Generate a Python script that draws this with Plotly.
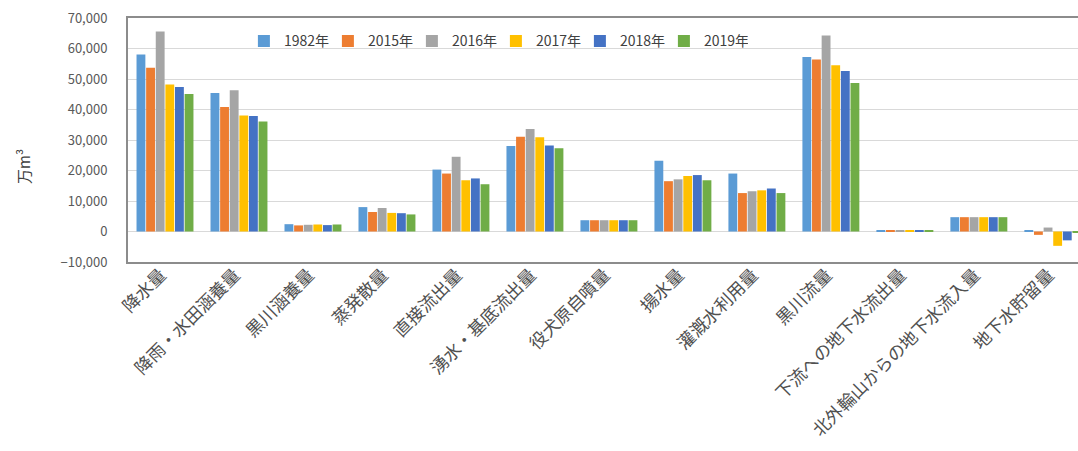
import plotly.graph_objects as go

categories = ["降水量", "降雨・水田涵養量", "黒川涵養量", "蒸発散量", "直接流出量",
              "湧水・基底流出量", "役犬原自噴量", "揚水量", "灌漑水利用量", "黒川流量",
              "下流への地下水流出量", "北外輪山からの地下水流入量", "地下水貯留量"]
years = ["1982年", "2015年", "2016年", "2017年", "2018年", "2019年"]

v1982 = [58000, 45400, 2400, 8000, 20300, 28000, 3700, 23200, 19000, 57200, 400, 4700, 300]
v2015 = [53700, 40800, 2000, 6400, 19000, 31100, 3700, 16500, 12600, 56400, 400, 4700, -1100]
v2016 = [65600, 46300, 2200, 7700, 24500, 33600, 3700, 17100, 13200, 64300, 400, 4700, 1300]
v2017 = [48200, 38000, 2300, 6100, 16800, 30900, 3700, 18200, 13500, 54500, 400, 4700, -4700]
v2018 = [47400, 37900, 2100, 6000, 17400, 28200, 3700, 18500, 14100, 52600, 400, 4700, -2900]
v2019 = [45100, 36100, 2300, 5600, 15500, 27300, 3700, 16800, 12600, 48700, 400, 4700, -400]

colors = ["#5B9BD5", "#ED7D31", "#A5A5A5", "#FFC000", "#4472C4", "#70AD47"]
series = [v1982, v2015, v2016, v2017, v2018, v2019]

FONT = "Noto Sans CJK JP"

fig = go.Figure()
for name, vals, col in zip(years, series, colors):
    fig.add_trace(go.Bar(x=categories, y=vals, name=name, marker_color=col,
                         marker_line_width=0))

fig.update_layout(
    width=1078, height=451,
    margin=dict(l=128, r=0, t=18, b=189, autoexpand=False),
    paper_bgcolor="white", plot_bgcolor="white",
    barmode="group", bargap=0.22, bargroupgap=0.08,
    font=dict(family=FONT, size=13, color="#595959"),
    legend=dict(orientation="h", x=0.122, xanchor="left", y=0.97, yanchor="top",
                bgcolor="rgba(0,0,0,0)", font=dict(size=14, color="#404040"),
                itemwidth=30, traceorder="normal",
                entrywidth=39, entrywidthmode="pixels"),
    showlegend=True,
    annotations=[dict(text="万m³", xref="paper", yref="paper",
                      x=(23 - 128) / 950, y=(262 - 167) / 244,
                      xanchor="center", yanchor="middle", textangle=-90,
                      showarrow=False,
                      font=dict(size=15, color="#404040", family=FONT))],
)
fig.update_xaxes(range=[-0.5, 12.34], tickangle=-45, showgrid=False,
                 showline=True, linecolor="#8C8C8C", linewidth=2, mirror=True,
                 ticks="", ticklabelstandoff=-6, ticklabelshift=-4, automargin=False,
                 tickfont=dict(size=17.5, color="#505050", family=FONT))
fig.update_yaxes(range=[-10000, 70000], dtick=10000, tickformat=",",
                 showgrid=True, gridcolor="#D9D9D9", gridwidth=1,
                 zeroline=False, showline=True, linecolor="#8C8C8C", linewidth=2,
                 mirror=False, ticks="", ticklabelstandoff=16, automargin=False,
                 tickfont=dict(size=13, color="#595959", family=FONT))

fig.write_html("out.html")
